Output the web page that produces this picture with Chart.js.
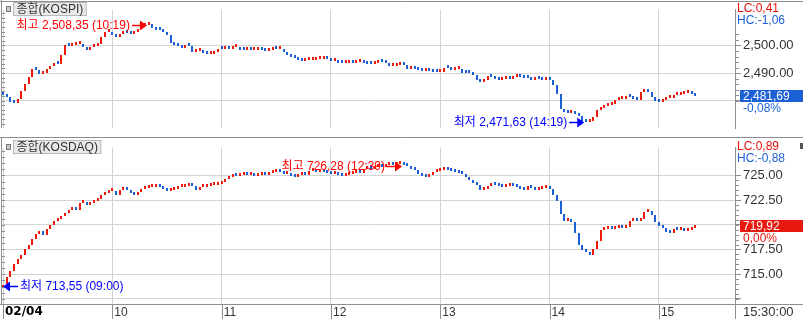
<!DOCTYPE html>
<html>
<head>
<meta charset="utf-8">
<script src="https://cdn.jsdelivr.net/npm/chart.js@4.4.1/dist/chart.umd.min.js"></script>
<style>
  html, body { margin: 0; padding: 0; background: #fff; }
  #wrap { position: relative; width: 803px; height: 319px; overflow: hidden; }
  #c1 { position: absolute; left: 0; top: 0; }
  #c2 { position: absolute; left: 0; top: 138px; }
</style>
</head>
<body>
<div id="wrap">
  <canvas id="c1" width="803" height="138"></canvas>
  <canvas id="c2" width="803" height="181"></canvas>
</div>
<script>
// Intraday KOSPI / KOSDAQ, 2-minute candles from 09:00 (open = previous close)
const hourTicks = [0, 60, 120, 180, 240, 300, 360];
const hourLabels = ['02/04', '10', '11', '12', '13', '14', '15'];
const closeTime = '15:30:00';
const barStep = 2; // minutes per candle

const kospiOpen = 2483.0;
const kospiClose = [
  2482.0, 2481.2, 2479.5, 2479.0, 2480.5, 2483.5, 2486.0, 2488.5, 2491.5, 2491.0,
  2489.5, 2490.0, 2491.5, 2492.5, 2493.7, 2493.4, 2496.5, 2500.0, 2499.8, 2500.2,
  2500.4, 2500.5, 2499.5, 2498.2, 2499.4, 2499.8, 2500.6, 2503.2, 2504.9, 2505.0,
  2503.8, 2503.0, 2504.0, 2504.6, 2504.5, 2504.0, 2504.8, 2505.9, 2507.0, 2507.6,
  2507.8, 2506.5, 2505.7, 2505.6, 2505.0, 2503.8, 2500.8, 2500.0, 2499.7, 2499.2,
  2500.2, 2499.8, 2497.5, 2497.9, 2497.9, 2497.2, 2496.8, 2496.9, 2497.6, 2498.7,
  2498.6, 2499.3, 2498.8, 2499.5, 2499.6, 2498.4, 2498.3, 2498.3, 2498.2, 2498.2,
  2498.5, 2498.4, 2498.1, 2498.5, 2498.7, 2498.6, 2498.7, 2497.5, 2496.6, 2495.8,
  2495.5, 2494.8, 2494.5, 2494.6, 2494.8, 2494.9, 2495.0, 2495.2, 2495.3, 2495.0,
  2494.4, 2494.5, 2493.8, 2493.6, 2493.8, 2494.0, 2493.8, 2494.1, 2494.2, 2493.8,
  2493.3, 2493.2, 2493.5, 2494.0, 2493.9, 2493.6, 2492.6, 2492.7, 2493.0, 2493.5,
  2492.8, 2491.4, 2491.6, 2491.4, 2491.0, 2490.9, 2491.0, 2490.7, 2490.5, 2490.3,
  2490.5, 2491.9, 2491.7, 2491.2, 2491.3, 2491.4, 2490.2, 2490.0, 2489.9, 2489.3,
  2487.5, 2486.8, 2487.5, 2488.8, 2488.6, 2488.0, 2487.6, 2487.7, 2487.9, 2487.8,
  2488.5, 2488.7, 2488.5, 2488.3, 2488.2, 2487.6, 2487.9, 2487.8, 2487.6, 2487.9,
  2487.4, 2485.6, 2482.5, 2477.0, 2475.8, 2475.5, 2476.3, 2475.0, 2474.5, 2472.8,
  2472.2, 2472.8, 2474.2, 2476.5, 2477.5, 2478.2, 2478.4, 2478.8, 2480.2, 2480.5,
  2480.5, 2481.4, 2481.3, 2480.5, 2480.4, 2483.0, 2483.7, 2483.3, 2481.5, 2479.8,
  2479.5, 2480.2, 2481.0, 2481.0, 2481.9, 2482.0, 2482.4, 2482.8, 2482.9, 2482.6, 2481.69
];
const kospiTicks = [2480, 2490, 2500];
const kospiMarks = [
  { kind: '최고', value: 2508.35, time: '10:19' },
  { kind: '최저', value: 2471.63, time: '14:19' }
];
const kospiInfo = ['LC:0,41', 'HC:-1,06', '-0,08%'];

const kosdaqOpen = 713.55;
const kosdaqClose = [
  713.9, 714.7, 715.3, 716.0, 716.5, 716.9, 717.5, 718.0, 718.6, 719.1,
  719.4, 719.0, 719.6, 720.0, 720.4, 720.6, 720.9, 721.2, 721.5, 721.6,
  721.5, 722.2, 722.3, 722.0, 722.2, 722.4, 722.6, 723.0, 723.2, 723.4,
  723.4, 723.0, 723.5, 723.6, 723.5, 723.2, 723.0, 723.3, 723.6, 723.7,
  723.8, 723.8, 723.9, 723.8, 723.6, 723.4, 723.5, 723.6, 723.8, 723.8,
  723.9, 724.1, 723.9, 723.5, 723.8, 723.8, 723.9, 724.0, 724.0, 724.1,
  724.3, 724.6, 724.8, 725.0, 724.9, 725.0, 725.1, 725.0, 725.0, 724.9,
  725.0, 725.1, 725.0, 725.2, 725.3, 725.4, 725.3, 725.1, 725.2, 724.9,
  724.8, 725.0, 725.1, 725.0, 725.4, 725.5, 725.3, 725.4, 725.3, 725.2,
  725.1, 725.2, 725.0, 724.9, 725.0, 725.1, 725.2, 725.3, 725.2, 725.6,
  725.7, 725.6, 725.8, 725.9, 725.8, 726.0, 726.1, 726.0, 726.1, 726.2,
  726.0, 725.9, 725.6, 725.5, 725.1, 724.9, 724.8, 725.0, 725.3, 725.4,
  725.5, 725.6, 725.5, 725.4, 725.3, 725.2, 725.1, 724.8, 724.5, 724.2,
  724.0, 723.5, 723.6, 723.9, 724.1, 724.0, 723.9, 723.8, 723.9, 724.0,
  723.9, 723.8, 723.6, 723.5, 723.9, 723.7, 723.5, 723.6, 723.7, 723.9,
  723.6, 723.0, 722.4, 721.1, 720.4, 720.6, 720.3, 719.2, 718.0, 717.4,
  717.2, 716.9, 717.5, 718.4, 719.5, 719.6, 719.7, 719.6, 719.7, 719.8,
  719.7, 719.8, 720.4, 720.5, 720.4, 720.6, 721.3, 721.4, 721.0, 720.3,
  719.9, 719.7, 719.3, 719.2, 719.6, 719.5, 719.6, 719.4, 719.5, 719.7, 719.92
];
const kosdaqTicks = [712.5, 715, 717.5, 720, 722.5, 725];
const kosdaqMarks = [
  { kind: '최고', value: 726.28, time: '12:39' },
  { kind: '최저', value: 713.55, time: '09:00' }
];
const kosdaqInfo = ['LC:0,89', 'HC:-0,88', '0,00%'];

// styles
const RED = '#ee1a0c', BLUE = '#1c5fd6', GRID = '#d3d3d3', AXIS = '#8e8e8e';
const LAT = '"Liberation Sans", Arial, sans-serif';
const TXT = '"Liberation Sans", "Noto Sans CJK KR", sans-serif';
const X_MIN = -0.55, X_MAX = 401.75; // 9:00 sits at x=3, 1.822 px per minute

const fmt = v => v.toLocaleString('en-US', { minimumFractionDigits: 2, maximumFractionDigits: 2 });
const fmtC = v => fmt(v).replace(/\.(\d\d)$/, ',$1');

function arrow(ctx, x, y, dir, color){
  ctx.strokeStyle = color; ctx.fillStyle = color; ctx.lineWidth = 1.5;
  ctx.beginPath(); ctx.moveTo(x - dir * 15, y); ctx.lineTo(x - dir * 6, y); ctx.stroke();
  ctx.beginPath(); ctx.moveTo(x, y); ctx.lineTo(x - dir * 7, y - 5); ctx.lineTo(x - dir * 7, y + 5);
  ctx.closePath(); ctx.fill();
}

// snap candle bodies to whole pixels so the 2px ticks stay crisp
const snapBars = {
  id: 'snapBars',
  afterDatasetsUpdate(chart){
    chart.getDatasetMeta(0).data.forEach(el => {
      el.x = Math.round(el.x);
      el.y = Math.round(el.y);
      el.base = Math.round(el.base);
    });
  }
};

function deco(p){
  return {
    id: 'deco',
    afterDraw(chart){
      const { ctx, chartArea: a, scales: { x, y } } = chart;
      const W = chart.width, H = chart.height;
      const line = (x1, y1, x2, y2) => { ctx.beginPath(); ctx.moveTo(x1, y1); ctx.lineTo(x2, y2); ctx.stroke(); };
      ctx.save();
      ctx.lineWidth = 1; ctx.strokeStyle = AXIS;
      if (!p.xLabels){
        line(0, 1.5, W, 1.5);
        line(0, H - 0.5, W, H - 0.5);
      } else {
        line(0, a.bottom + 0.5, W, a.bottom + 0.5);
        line(a.right + 0.5, a.bottom, a.right + 0.5, H);
        hourTicks.forEach(t => {
          const px = Math.round(x.getPixelForValue(t)) + 0.5;
          line(px, a.bottom, px, H);
        });
      }
      line(1.5, 0, 1.5, a.bottom);

      // minor ticks on the right scale
      for (let v = p.minor[0]; v <= p.minor[1] + 1e-6; v += p.minor[2]){
        const py = Math.round(y.getPixelForValue(v)) + 0.5;
        line(a.right, py, a.right + 4, py);
      }
      // small ticks on the left border
      for (let v = p.ticks[0] - 20 * p.leftStep; v <= p.max; v += p.leftStep){
        const py = Math.round(y.getPixelForValue(v)) + 0.5;
        if (py > a.top + 3 && py < a.bottom - 1) line(1.5, py, 5, py);
      }

      // panel name box
      ctx.font = '12px ' + TXT;
      const tw = ctx.measureText(p.name).width;
      ctx.fillStyle = '#e9e9e9'; ctx.fillRect(13.5, 2.5, tw + 6, 13);
      ctx.strokeStyle = '#b9b9b9'; ctx.strokeRect(13.5, 2.5, tw + 6, 13);
      ctx.fillStyle = '#c8c8c8'; ctx.fillRect(6.5, 6.5, 4, 5);
      ctx.strokeStyle = '#777'; ctx.strokeRect(6.5, 6.5, 4, 5);
      ctx.fillStyle = '#333'; ctx.textBaseline = 'middle'; ctx.textAlign = 'left';
      ctx.fillText(p.name, 16.5, 9.5);

      // high / low marks
      p.marks.forEach(m => {
        const [hh, mm] = m.time.split(':').map(Number);
        const px = x.getPixelForValue((hh - 9) * 60 + mm);
        const high = m.kind === '최고';
        const py = Math.round(y.getPixelForValue(m.value) + (high ? 3 : -2)) + 0.5;
        const color = high ? '#ff0000' : '#0000ff';
        const dir = px < 60 ? -1 : 1;
        arrow(ctx, px, py, dir, color);
        ctx.fillStyle = color; ctx.font = '12px ' + TXT;
        ctx.textAlign = dir > 0 ? 'right' : 'left';
        ctx.fillText(m.kind + ' ' + fmtC(m.value) + ' (' + m.time + ')', px - dir * 17, py);
      });

      // LC / HC, last value box and change
      ctx.textAlign = 'left'; ctx.textBaseline = 'middle';
      ctx.font = '12px ' + LAT;
      ctx.fillStyle = '#e8100a'; ctx.fillText(p.info[0], 737, 8.5);
      ctx.fillStyle = '#1c5fd6'; ctx.fillText(p.info[1], 737, 21);
      const last = p.closes[p.closes.length - 1];
      const vy = Math.round(y.getPixelForValue(last));
      ctx.fillStyle = p.boxColor; ctx.fillRect(740, vy - 6, 63, 12);
      ctx.font = '12px ' + LAT;
      ctx.fillStyle = '#fff'; ctx.fillText(fmtC(last), 743, vy + 0.5);
      ctx.fillStyle = p.boxColor; ctx.fillText(p.info[2], 743, vy + 13);

      if (p.xLabels){
        ctx.fillStyle = '#555'; ctx.fillRect(800, 5, 3, 6);
        ctx.fillStyle = '#333'; ctx.font = '13px ' + LAT;
        ctx.fillText(closeTime, 743, a.bottom + 8.5);
      }
      ctx.restore();
    }
  };
}

function makePanel(p){
  let prev = p.open;
  const bars = p.closes.map((c, i) => {
    const b = { x: i * barStep, y: [prev, c] };
    prev = c;
    return b;
  });
  return new Chart(document.getElementById(p.canvas), {
    type: 'bar',
    data: {
      datasets: [{
        data: bars,
        barThickness: 2,
        minBarLength: 3,
        borderWidth: 0,
        inflateAmount: 0,
        grouped: false,
        backgroundColor: c => (c.raw && c.raw.y[1] >= c.raw.y[0]) ? RED : BLUE
      }]
    },
    options: {
      responsive: false,
      animation: false,
      events: [],
      layout: { autoPadding: false, padding: { left: 2, top: p.xLabels ? 0 : 2, right: 0, bottom: 0 } },
      plugins: { legend: { display: false }, tooltip: { enabled: false } },
      scales: {
        x: {
          type: 'linear', min: X_MIN, max: X_MAX, offset: false,
          afterBuildTicks: s => { s.ticks = hourTicks.map(v => ({ value: v })); },
          afterFit: s => { s.height = p.xLabels ? 15 : 0; },
          grid: { color: GRID, drawTicks: false, offset: false },
          border: { display: false },
          ticks: {
            display: p.xLabels, autoSkip: false, maxRotation: 0, align: 'start', labelOffset: 2, padding: 1,
            callback: (v, i) => hourLabels[i],
            font: c => c.index === 0 ? { family: '"DejaVu Sans", sans-serif', size: 12, weight: 'bold' } : { family: LAT, size: 12 },
            color: c => c.index === 0 ? '#000' : '#333'
          }
        },
        y: {
          type: 'linear', position: 'right', min: p.min, max: p.max,
          afterBuildTicks: s => { s.ticks = p.ticks.map(v => ({ value: v })); },
          afterFit: s => { s.width = 68; },
          grid: { color: GRID, tickColor: AXIS, tickLength: 6 },
          border: { color: AXIS },
          ticks: {
            padding: 2, color: '#333', font: { family: LAT, size: 13 },
            callback: v => p.hide.includes(v) ? '' : fmt(v)
          }
        }
      }
    },
    plugins: [snapBars, deco(p)]
  });
}

makePanel({
  canvas: 'c1', name: '종합(KOSPI)', open: kospiOpen, closes: kospiClose,
  ticks: kospiTicks, hide: [2480], min: 2470.03, max: 2512.93,
  minor: [2480, 2504, 2], leftStep: 10 / 6,
  marks: kospiMarks, info: kospiInfo, boxColor: BLUE, xLabels: false
});
makePanel({
  canvas: 'c2', name: '종합(KOSDAQ)', open: kosdaqOpen, closes: kosdaqClose,
  ticks: kosdaqTicks, hide: [712.5, 720], min: 711.98, max: 727.79,
  minor: [712.5, 725, 0.5], leftStep: 0.625,
  marks: kosdaqMarks, info: kosdaqInfo, boxColor: '#e8190e', xLabels: true
});
</script>
</body>
</html>
